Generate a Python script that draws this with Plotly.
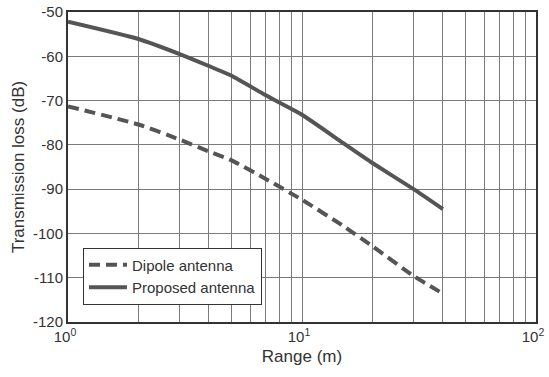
import plotly.graph_objects as go

range_m = [1, 2, 3, 4, 5, 7, 10, 15, 20, 30, 40]
dipole_db = [-71.3, -75.4, -78.8, -81.5, -83.5, -87.7, -92.4, -98.3, -102.9, -109.6, -113.6]
proposed_db = [-52.2, -56.1, -59.5, -62.2, -64.4, -68.8, -73.2, -79.6, -84.1, -90.0, -94.5]

decade_vals = [1, 10, 100]
decade_text = ["10<sup>0</sup>", "10<sup>1</sup>", "10<sup>2</sup>"]
minor_vals = [2, 3, 4, 5, 6, 7, 8, 9, 20, 30, 40, 50, 60, 70, 80, 90]
y_ticks = [-120, -110, -100, -90, -80, -70, -60, -50]
y_text = ["-120", "-110", "-100", "-90", "-80", "-70", "-60", "-50"]

line_col = "#555555"
fig = go.Figure()
fig.add_trace(go.Scatter(x=range_m, y=dipole_db, mode="lines", name="Dipole antenna",
                         line=dict(color=line_col, width=4, dash="11px,6px",
                                   shape="spline", smoothing=0.5)))
fig.add_trace(go.Scatter(x=range_m, y=proposed_db, mode="lines", name="Proposed antenna",
                         line=dict(color=line_col, width=4, shape="spline", smoothing=0.5)))

fig.update_layout(
    width=549, height=377,
    margin=dict(l=68, r=13, t=12, b=55),
    paper_bgcolor="white", plot_bgcolor="white",
    font=dict(family="Liberation Sans, Arial, sans-serif", color="#333333", size=15),
    showlegend=True,
    legend=dict(x=0.032, y=0.24, xanchor="left", yanchor="top",
                bgcolor="white", bordercolor="#333333", borderwidth=1,
                font=dict(size=15, color="#333333"), itemwidth=38,
                tracegroupgap=0),
)
fig.update_xaxes(type="log", range=[0, 2], tickvals=decade_vals, ticktext=decade_text,
                 automargin=False, ticklabelshift=-3,
                 showgrid=True, gridcolor="#7a7a7a", gridwidth=1,
                 minor=dict(tickvals=minor_vals, showgrid=True, gridcolor="#7a7a7a",
                            gridwidth=1, ticks=""),
                 showline=True, linecolor="#333333", linewidth=2, mirror=True,
                 ticks="", tickfont=dict(size=15),
                 title=dict(text="Range (m)", font=dict(size=17), standoff=6),
                 zeroline=False)
fig.update_yaxes(range=[-120, -50], tickvals=y_ticks, ticktext=y_text,
                 automargin=False,
                 showgrid=True, gridcolor="#7a7a7a", gridwidth=1,
                 showline=True, linecolor="#333333", linewidth=2, mirror=True,
                 ticks="", tickfont=dict(size=15),
                 title=dict(text="Transmission loss (dB)", font=dict(size=17), standoff=4),
                 zeroline=False)

fig.write_html("out.html")
